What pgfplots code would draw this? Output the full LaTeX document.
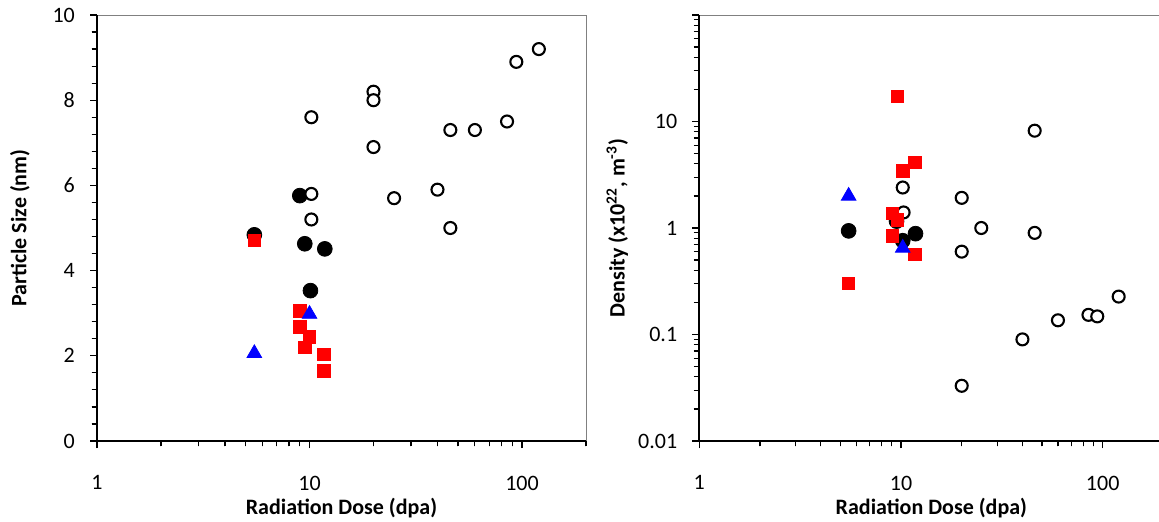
\documentclass[border=0pt]{standalone}
\usepackage{pgfplots}
\pgfplotsset{compat=1.18}
\usepackage{fontspec}
\setmainfont{Carlito}
\definecolor{mred}{RGB}{255,0,0}
\definecolor{mblue}{RGB}{0,0,255}
\tikzset{tk/.style={black, line width=0.6pt}}
\pgfplotsset{
 panelbase/.style={
  scale only axis, xmin=1, xmax=200,
  axis line style={gray, line width=0.5pt},
  xtick pos=bottom, ytick pos=left,
  tick align=outside,
  major tick length=3.5pt, minor tick length=2.7pt,
  every tick/.style={black, line width=0.6pt},
  xtick={1,10,100}, xticklabels={1,10,100},
  minor xtick={2,3,4,5,6,7,8,9,20,30,40,50,60,70,80,90,200},
  /pgf/number format/assume math mode=true,
  tick label style={font=\fontsize{11}{13}\selectfont},
  xticklabel style={yshift=-10pt},
  yticklabel style={xshift=-3.7pt},
  label style={font=\bfseries\fontsize{11}{13}\selectfont},
  xlabel style={at={(rel axis cs:0.5,0)}, anchor=center, yshift=-33.5pt},
  ylabel style={at={(rel axis cs:0,0.5)}, anchor=center},
  clip=false,
 },
 opc/.style={only marks, mark=*, mark size=3.0pt, mark options={fill=white, draw=black, line width=1.05pt}},
 blc/.style={only marks, mark=*, mark size=3.7pt, mark options={fill=black, draw=black}},
 rsq/.style={only marks, mark=square*, mark size=3.1pt, mark options={fill=mred, draw=mred}},
 btr/.style={only marks, mark=triangle*, mark size=4.2pt, mark options={fill=mblue, draw=mblue}},
}
\begin{document}
\fontsize{11}{13}\selectfont
\begin{tikzpicture}
\useasboundingbox (0,0) rectangle (579.5pt,260.5pt);
% ---------------- left panel
\begin{semilogxaxis}[panelbase, at={(48.5pt,40pt)}, anchor=south west,
  width=244.5pt, height=213pt,
  ymin=0, ymax=10, ytick={0,2,4,6,8,10}, minor y tick num=4,
  xlabel={Radiation Dose (dpa)}, ylabel={Particle Size (nm)},
  ylabel style={yshift=38.5pt}]
\pgfplotsinvokeforeach{1,10,100}{\draw[tk] ([yshift=-3.5pt]axis cs:#1,0) -- (axis cs:#1,0);}
\pgfplotsinvokeforeach{2,3,4,5,6,7,8,9,20,30,40,50,60,70,80,90,200}{\draw[tk] ([yshift=-2.7pt]axis cs:#1,0) -- (axis cs:#1,0);}
\pgfplotsinvokeforeach{0,2,4,6,8,10}{\draw[tk] ([xshift=-3.5pt]axis cs:1,#1) -- (axis cs:1,#1);}
\pgfplotsinvokeforeach{0.4,0.8,1.2,1.6,2.4,2.8,3.2,3.6,4.4,4.8,5.2,5.6,6.4,6.8,7.2,7.6,8.4,8.8,9.2,9.6}{\draw[tk] ([xshift=-2.7pt]axis cs:1,#1) -- (axis cs:1,#1);}
\draw[black, line width=1pt] (rel axis cs:0,1) -- (rel axis cs:0,0) -- (rel axis cs:1,0);
\addplot[blc] coordinates {(5.5,4.84) (9,5.76) (9.5,4.63) (11.8,4.51) (10.1,3.53)};
\addplot[opc] coordinates {(10.2,7.6) (10.2,5.8) (10.2,5.2) (20,8.2) (20,8.0) (20,6.9) (25,5.7) (40,5.9) (46,7.3) (46,5.0) (60,7.3) (85,7.5) (94,8.9) (120,9.2)};
\addplot[rsq] coordinates {(5.5,4.71) (9,3.05) (9,2.68) (10,2.44) (9.5,2.2) (11.7,2.04) (11.7,1.65)};
\addplot[btr] coordinates {(5.5,2.06) (10,2.98)};
\end{semilogxaxis}
% ---------------- right panel
\begin{loglogaxis}[panelbase, at={(349.65pt,40pt)}, anchor=south west,
  width=232.05pt, height=213pt,
  ymin=0.01, ymax=100, ytick={0.01,0.1,1,10,100}, yticklabels={0.01,0.1,1,10,},
  minor ytick={0.02,0.03,0.04,0.05,0.06,0.07,0.08,0.09,0.2,0.3,0.4,0.5,0.6,0.7,0.8,0.9,2,3,4,5,6,7,8,9,20,30,40,50,60,70,80,90},
  xlabel={Radiation Dose (dpa)}, ylabel={Density (x10\textsuperscript{22}, m\textsuperscript{-3})},
  ylabel style={yshift=41pt}]
\pgfplotsinvokeforeach{1,10,100}{\draw[tk] ([yshift=-3.5pt]axis cs:#1,0.01) -- (axis cs:#1,0.01);}
\pgfplotsinvokeforeach{2,3,4,5,6,7,8,9,20,30,40,50,60,70,80,90,200}{\draw[tk] ([yshift=-2.7pt]axis cs:#1,0.01) -- (axis cs:#1,0.01);}
\pgfplotsinvokeforeach{0.01,0.1,1,10,100}{\draw[tk] ([xshift=-3.5pt]axis cs:1,#1) -- (axis cs:1,#1);}
\pgfplotsinvokeforeach{0.02,0.03,0.04,0.05,0.06,0.07,0.08,0.09,0.2,0.3,0.4,0.5,0.6,0.7,0.8,0.9,2,3,4,5,6,7,8,9,20,30,40,50,60,70,80,90}{\draw[tk] ([xshift=-2.7pt]axis cs:1,#1) -- (axis cs:1,#1);}
\draw[black, line width=1pt] (rel axis cs:0,1) -- (rel axis cs:0,0) -- (rel axis cs:1,0);
\addplot[blc] coordinates {(5.5,0.94) (9.5,1.16) (10.2,0.76) (11.8,0.885)};
\addplot[opc] coordinates {(10.2,2.4) (10.3,1.4) (20,1.92) (20,0.6) (25,1.0) (20,0.033) (40,0.09) (46,8.2) (46,0.9) (60,0.136) (85,0.153) (94,0.148) (120,0.227)};
\addplot[rsq] coordinates {(9.6,17.3) (11.7,4.15) (10.2,3.44) (9.06,1.37) (9.6,1.19) (9.06,0.84) (11.7,0.566) (5.5,0.30)};
\addplot[btr] coordinates {(5.5,2.0) (10.2,0.65)};
\end{loglogaxis}
\end{tikzpicture}
\end{document}
